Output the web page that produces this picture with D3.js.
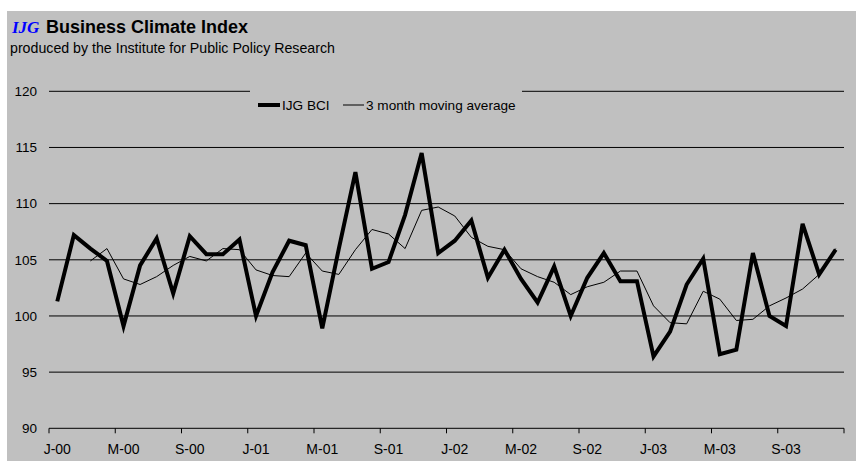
<!DOCTYPE html>
<html>
<head>
    <title>IJG Business Climate Index</title>
    <script src="https://d3js.org/d3.v7.min.js"></script>
    <style>
        body { margin: 0; background: #fff; }
        svg { display: block; font-family: Arial, "Liberation Sans", sans-serif; }
    </style>
</head>
<body>
<svg width="856" height="461"></svg>
<script>
    // months Jan 2000 .. Dec 2003
    var months = d3.range(48);
    var tickLabels = ["J-00", "M-00", "S-00", "J-01", "M-01", "S-01",
                      "J-02", "M-02", "S-02", "J-03", "M-03", "S-03"];
    var bci = [101.3, 107.2, 106.0, 104.9, 99.1, 104.5, 106.9, 102.0, 107.1, 105.5, 105.5, 106.8,
               100.0, 103.9, 106.7, 106.3, 98.9, 106.0, 112.8, 104.2, 104.8, 109.0, 114.5, 105.6,
               106.7, 108.5, 103.4, 105.9, 103.3, 101.2, 104.4, 100.0, 103.4, 105.6, 103.1, 103.1,
               96.4, 98.6, 102.8, 105.1, 96.6, 97.0, 105.6, 100.0, 99.1, 108.2, 103.7, 105.9];
    var movingAvg = [null, null, 104.9, 106.0, 103.3, 102.8, 103.5, 104.5, 105.3, 104.9, 106.0, 105.9,
               104.1, 103.6, 103.5, 105.6, 104.0, 103.7, 105.9, 107.7, 107.3, 106.0, 109.4, 109.7,
               108.9, 107.0, 106.2, 105.9, 104.2, 103.5, 103.0, 101.9, 102.6, 103.0, 104.0, 104.0,
               100.9, 99.4, 99.3, 102.2, 101.5, 99.6, 99.7, 100.9, 101.6, 102.4, 103.7, 106.0];
    var yTicks = [90, 95, 100, 105, 110, 115, 120];

    var svg = d3.select("svg");
    var plot = {left: 49, right: 844, top: 91.3, bottom: 428.3};

    svg.append("rect")
        .attr("x", 7).attr("y", 11)
        .attr("width", 856 - 7).attr("height", 461 - 11)
        .attr("fill", "#c0c0c0");

    // title
    svg.append("text")
        .attr("x", 12).attr("y", 33)
        .attr("font-family", "'Liberation Serif', 'Times New Roman', serif")
        .attr("font-style", "italic").attr("font-weight", "bold")
        .attr("font-size", 17).attr("fill", "#0000ff")
        .text("IJG");
    svg.append("text")
        .attr("x", 46).attr("y", 33)
        .attr("font-weight", "bold").attr("font-size", 18)
        .text("Business Climate Index");
    svg.append("text")
        .attr("x", 10).attr("y", 53)
        .attr("font-size", 14.2)
        .text("produced by the Institute for Public Policy Research");

    var x = d3.scaleBand().domain(months).range([plot.left, plot.right]);
    var y = d3.scaleLinear().domain([90, 120]).range([plot.bottom, plot.top]);

    // gridlines
    svg.append("g").selectAll("line")
        .data(yTicks)
        .enter().append("line")
        .attr("x1", plot.left).attr("x2", plot.right)
        .attr("y1", function(d) { return y(d); })
        .attr("y2", function(d) { return y(d); })
        .attr("stroke", "#000").attr("stroke-width", 1);

    // y labels
    svg.append("g").selectAll("text")
        .data(yTicks)
        .enter().append("text")
        .attr("x", 37)
        .attr("y", function(d) { return y(d); })
        .attr("dy", "0.35em")
        .attr("text-anchor", "end")
        .attr("font-size", 13.5)
        .text(function(d) { return d; });

    // x axis ticks every 4 months, labels centred on the month
    var tickIdx = d3.range(0, 49, 4);
    svg.append("g").selectAll("line")
        .data(tickIdx)
        .enter().append("line")
        .attr("x1", function(d) { return d < 48 ? x(d) : plot.right; })
        .attr("x2", function(d) { return d < 48 ? x(d) : plot.right; })
        .attr("y1", plot.bottom).attr("y2", plot.bottom + 5)
        .attr("stroke", "#000");
    svg.append("g").selectAll("text")
        .data(tickLabels)
        .enter().append("text")
        .attr("x", function(d, i) { return x(i * 4) + x.bandwidth() / 2; })
        .attr("y", 454)
        .attr("text-anchor", "middle")
        .attr("font-size", 14)
        .text(function(d) { return d; });

    // series
    var line = d3.line()
        .defined(function(d) { return d != null; })
        .x(function(d, i) { return x(i) + x.bandwidth() / 2; })
        .y(function(d) { return y(d); });

    svg.append("path")
        .datum(movingAvg)
        .attr("d", line)
        .attr("fill", "none").attr("stroke", "#000").attr("stroke-width", 1);
    svg.append("path")
        .datum(bci)
        .attr("d", line)
        .attr("fill", "none").attr("stroke", "#000").attr("stroke-width", 4)
        .attr("stroke-linejoin", "miter");

    // legend (sits over the top gridline)
    var legend = svg.append("g");
    legend.append("rect")
        .attr("x", 250).attr("y", 88).attr("width", 272).attr("height", 26)
        .attr("fill", "#c0c0c0");
    legend.append("line")
        .attr("x1", 258).attr("x2", 280).attr("y1", 105).attr("y2", 105)
        .attr("stroke", "#000").attr("stroke-width", 4);
    legend.append("text")
        .attr("x", 282).attr("y", 110).attr("font-size", 13.6)
        .text("IJG BCI");
    legend.append("line")
        .attr("x1", 343).attr("x2", 364).attr("y1", 105).attr("y2", 105)
        .attr("stroke", "#000").attr("stroke-width", 1);
    legend.append("text")
        .attr("x", 366).attr("y", 110).attr("font-size", 13.6)
        .text("3 month moving average");
</script>
</body>
</html>
